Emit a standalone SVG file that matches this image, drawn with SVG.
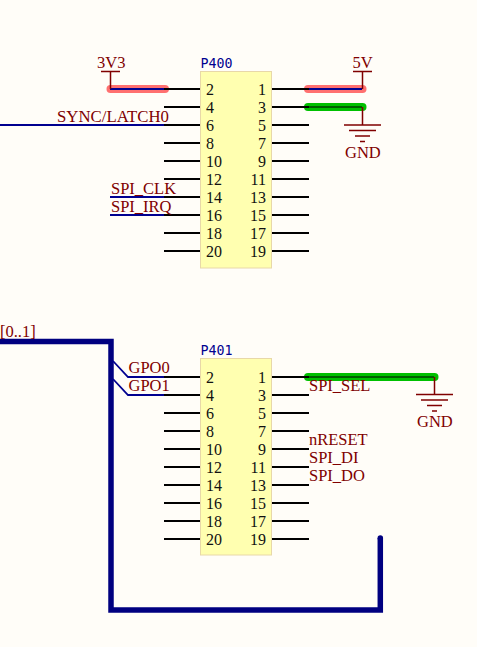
<svg xmlns="http://www.w3.org/2000/svg" width="477" height="647" viewBox="0 0 477 647">
<style>
text{font-family:"Liberation Serif","Times New Roman",serif}
.body{fill:#ffffb0;stroke:#e8d8a8;stroke-width:1}
.pin{stroke:#000;stroke-width:1.8;fill:none}
.thin{stroke-width:1.200}
.num{font-size:16px;fill:#111}
.l{text-anchor:end}
.ref{font-family:"DejaVu Sans Mono",monospace;font-size:13.300px;fill:#000090}
.lbl{font-size:16.500px;fill:#800000}
.long{font-size:16.800px}
.sym{stroke:#800000;stroke-width:1.500;fill:none}
.wire{stroke:#000090;stroke-width:1.800;fill:none}
.bus{stroke:#000080;stroke-width:5.500;fill:none}
.hr{stroke:#ff7070;stroke-width:8;stroke-linecap:round;fill:none}
.hg{stroke:#00c000;stroke-width:8;stroke-linecap:round;fill:none}
</style>
<rect width="477" height="647" fill="#fffdf8"/>
<g id="connectors">
<path class="hr" d="M110.500 89H165"/>
<path class="hr" d="M308 89H362.500"/>
<path class="hg" d="M308 107H362.500"/>
<path class="hg" d="M308 377H434.500"/>
<path class="wire" d="M0 125H165"/>
<path class="wire" d="M110 197H165"/>
<path class="wire" d="M110 215H165"/>
<path class="wire thin" d="M110 89H165"/>
<path class="wire thin" d="M308 89H362"/>
<path class="pin thin" d="M308 107H362"/>
<path class="pin thin" d="M308 377H434"/>
<path class="bus" stroke-linejoin="miter" d="M0 341.500H111V610H380.300V538"/>
<circle cx="380.300" cy="538" r="2.750" fill="#000080"/>
<path class="wire" d="M113 361L128 377H165"/>
<path class="wire" d="M113 379L128 395H165"/>
</g>
<g id="P400">
<rect class="body" x="200.500" y="71.500" width="71" height="196.500"/>
<text class="ref" x="200.500" y="67.500">P400</text>
<path class="pin" d="M164 89H200M164 107H200M164 125H200M164 143H200M164 161H200M164 179H200M164 197H200M164 215H200M164 233H200M164 251H200M272 89H309M272 107H309M272 125H309M272 143H309M272 161H309M272 179H309M272 197H309M272 215H309M272 233H309M272 251H309"/>
<g class="num">
<text x="206" y="94.500">2</text><text x="206" y="112.500">4</text><text x="206" y="130.500">6</text><text x="206" y="148.500">8</text><text x="206" y="166.500">10</text><text x="206" y="184.500">12</text><text x="206" y="202.500">14</text><text x="206" y="220.500">16</text><text x="206" y="238.500">18</text><text x="206" y="256.500">20</text>
<text class="l" x="266" y="94.500">1</text><text class="l" x="266" y="112.500">3</text><text class="l" x="266" y="130.500">5</text><text class="l" x="266" y="148.500">7</text><text class="l" x="266" y="166.500">9</text><text class="l" x="266" y="184.500">11</text><text class="l" x="266" y="202.500">13</text><text class="l" x="266" y="220.500">15</text><text class="l" x="266" y="238.500">17</text><text class="l" x="266" y="256.500">19</text>
</g>
</g>
<g id="P401">
<rect class="body" x="200.500" y="358.500" width="71" height="196.500"/>
<text class="ref" x="200.500" y="354.500">P401</text>
<path class="pin" d="M164 377H200M164 395H200M164 413H200M164 431H200M164 449H200M164 467H200M164 485H200M164 503H200M164 521H200M164 539H200M272 377H309M272 395H309M272 413H309M272 431H309M272 449H309M272 467H309M272 485H309M272 503H309M272 521H309M272 539H309"/>
<g class="num">
<text x="206" y="382.500">2</text><text x="206" y="400.500">4</text><text x="206" y="418.500">6</text><text x="206" y="436.500">8</text><text x="206" y="454.500">10</text><text x="206" y="472.500">12</text><text x="206" y="490.500">14</text><text x="206" y="508.500">16</text><text x="206" y="526.500">18</text><text x="206" y="544.500">20</text>
<text class="l" x="266" y="382.500">1</text><text class="l" x="266" y="400.500">3</text><text class="l" x="266" y="418.500">5</text><text class="l" x="266" y="436.500">7</text><text class="l" x="266" y="454.500">9</text><text class="l" x="266" y="472.500">11</text><text class="l" x="266" y="490.500">13</text><text class="l" x="266" y="508.500">15</text><text class="l" x="266" y="526.500">17</text><text class="l" x="266" y="544.500">19</text>
</g>
</g>
<g id="pwr-3V3">
<path class="sym" d="M101 71.500H120M110.500 71.500V89"/>
<text class="lbl" x="97" y="67.500">3V3</text>
</g>
<g id="pwr-5V">
<path class="sym" d="M353 71.500H372M362.500 71.500V89"/>
<text class="lbl" x="352.500" y="67.500">5V</text>
</g>
<g id="gnd-1">
<path class="sym" d="M362.500 107V125M344 125H381M349 130.500H376M355 136H370M360 141.500H365"/>
<text class="lbl" x="345" y="158">GND</text>
</g>
<g id="gnd-2">
<path class="sym" d="M434.500 377V394.500M416 394.500H453M421 400H448M427 405.500H442M432 411H437"/>
<text class="lbl" x="417" y="427">GND</text>
</g>
<g id="labels">
<text class="lbl long" x="57" y="121.500">SYNC/LATCH0</text>
<text class="lbl" x="111" y="193.500">SPI_CLK</text>
<text class="lbl" x="111" y="211.500">SPI_IRQ</text>
<text class="lbl" x="0" y="337">[0..1]</text>
<text class="lbl" x="128.500" y="373">GPO0</text>
<text class="lbl" x="128.500" y="391">GPO1</text>
<text class="lbl" x="309" y="391">SPI_SEL</text>
<text class="lbl" x="309" y="445">nRESET</text>
<text class="lbl" x="309" y="463">SPI_DI</text>
<text class="lbl" x="309" y="481">SPI_DO</text>
</g>
</svg>
